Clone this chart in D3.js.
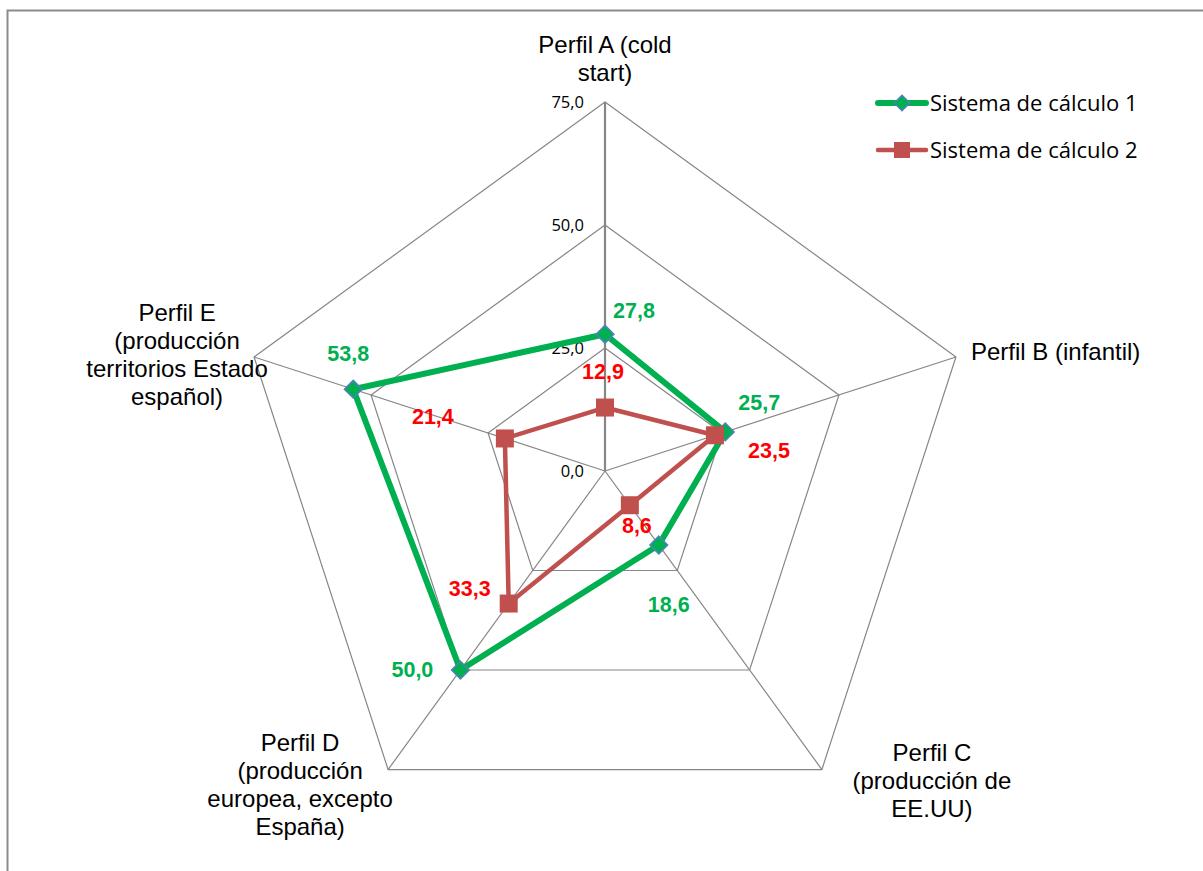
<!DOCTYPE html>
<html>
<head>
<meta charset="utf-8">
<script src="https://cdn.jsdelivr.net/npm/d3@7"></script>
<style>
  body { margin: 0; background: #fff; }
  svg { display: block; }
</style>
</head>
<body>
<div id="chart"></div>
<script>
// Data
const perfiles = [
  ["Perfil A (cold", "start)"],
  ["Perfil B (infantil)"],
  ["Perfil C", "(producción de", "EE.UU)"],
  ["Perfil D", "(producción", "europea, excepto", "España)"],
  ["Perfil E", "(producción", "territorios Estado", "español)"]
];
const sistema1 = [27.8, 25.7, 18.6, 50.0, 53.8];
const sistema2 = [12.9, 23.5, 8.6, 33.3, 21.4];
const ticks = [0, 25, 50, 75];
const seriesNames = ["Sistema de cálculo 1", "Sistema de cálculo 2"];

// Layout (label placement relative to the points / vertices)
const labelOffset1 = [[29, -24], [34, -29], [10, 59], [-48, -1], [-5, -36]];
const labelOffset2 = [[-2, -36], [54, 15], [7, 20], [-39, -15], [-72, -22]];
const axisLabelPos = [
  { dx: 0, dy: -57, anchor: "middle" },
  { dx: 15, dy: -5, anchor: "start" },
  { dx: 110, dy: -17, anchor: "middle" },
  { dx: -88, dy: -27, anchor: "middle" },
  { dx: -77, dy: -44, anchor: "middle" }
];

const width = 1203, height = 871;
const cx = 605, cy = 471;
const fmt = (v) => d3.format(".1f")(v).replace(".", ",");

const svg = d3.select("#chart").append("svg")
  .attr("width", width).attr("height", height);

// chart frame
svg.append("rect")
  .attr("x", 7.5).attr("y", 10.5)
  .attr("width", 1220).attr("height", 900)
  .attr("fill", "none").attr("stroke", "#8c8c8c").attr("stroke-width", 2);

const r = d3.scaleLinear().domain([0, 75]).range([0, 369]);
const angle = d3.scaleLinear().domain([0, perfiles.length]).range([0, 2 * Math.PI]);
const px = (i, v) => cx + r(v) * Math.sin(angle(i));
const py = (i, v) => cy - r(v) * Math.cos(angle(i));

const g = svg.append("g");

// grid rings
ticks.filter((t) => t > 0).forEach((t) => {
  g.append("polygon")
    .attr("points", perfiles.map((d, i) => [px(i, t), py(i, t)].join(",")).join(" "))
    .attr("fill", "none").attr("stroke", "#868686").attr("stroke-width", 1.2);
});

// spokes
perfiles.forEach((d, i) => {
  g.append("line")
    .attr("x1", cx).attr("y1", cy)
    .attr("x2", px(i, 75)).attr("y2", py(i, 75))
    .attr("stroke", "#868686").attr("stroke-width", i === 0 ? 2.2 : 1.2);
});

// tick labels
g.selectAll(".tick").data(ticks).join("text")
  .attr("x", cx - 21).attr("y", (d) => cy - r(d))
  .attr("dy", "0.35em")
  .attr("text-anchor", "end")
  .style("font-family", "'Open Sans', sans-serif").style("font-size", "16.5px")
  .attr("fill", "#000")
  .text(fmt);

// axis labels
perfiles.forEach((lines, i) => {
  const p = axisLabelPos[i];
  const t = g.append("text")
    .attr("x", px(i, 75) + p.dx).attr("y", py(i, 75) + p.dy)
    .attr("text-anchor", p.anchor)
    .style("font-family", "'Liberation Sans', Arial, sans-serif").style("font-size", "24px")
    .attr("fill", "#000");
  lines.forEach((l, k) => {
    t.append("tspan")
      .attr("x", px(i, 75) + p.dx)
      .attr("y", py(i, 75) + p.dy + k * 28)
      .attr("dy", "0.35em")
      .text(l);
  });
});

const line = d3.line().x((d) => d[0]).y((d) => d[1]).curve(d3.curveLinearClosed);

function drawSeries(values, color, widthLine) {
  const pts = values.map((v, i) => [px(i, v), py(i, v)]);
  g.append("path").attr("d", line(pts))
    .attr("fill", "none").attr("stroke", color)
    .attr("stroke-width", widthLine).attr("stroke-linejoin", "round");
  return pts;
}

const pts1 = drawSeries(sistema1, "#00B050", 6);
const pts2 = drawSeries(sistema2, "#C0504D", 4.5);

// markers
const diamond = d3.symbol().type(d3.symbolDiamond2).size(200);
g.selectAll(".m1").data(pts1).join("path")
  .attr("transform", (d) => `translate(${d[0]},${d[1]})`)
  .attr("d", diamond)
  .attr("fill", "#00B050").attr("stroke", "#4F81BD").attr("stroke-width", 1.5);

g.selectAll(".m2").data(pts2).join("rect")
  .attr("x", (d) => d[0] - 9).attr("y", (d) => d[1] - 9)
  .attr("width", 18).attr("height", 18)
  .attr("fill", "#C0504D");

// data labels
function dataLabels(values, pts, offs, color) {
  g.selectAll(null).data(values).join("text")
    .attr("x", (d, i) => pts[i][0] + offs[i][0])
    .attr("y", (d, i) => pts[i][1] + offs[i][1])
    .attr("dy", "0.35em")
    .attr("text-anchor", "middle")
    .style("font-family", "'Liberation Sans', Arial, sans-serif")
    .style("font-size", "21.5px").style("font-weight", "bold")
    .attr("fill", color)
    .text(fmt);
}
dataLabels(sistema1, pts1, labelOffset1, "#00B050");
dataLabels(sistema2, pts2, labelOffset2, "#FF0000");

// legend
const legend = svg.append("g").attr("transform", "translate(876,103)");
seriesNames.forEach((name, k) => {
  const row = legend.append("g").attr("transform", `translate(0,${k * 47})`);
  const color = k === 0 ? "#00B050" : "#C0504D";
  row.append("line").attr("x1", 2).attr("x2", 50).attr("y1", 0).attr("y2", 0)
    .attr("stroke", color).attr("stroke-width", k === 0 ? 6 : 4.5)
    .attr("stroke-linecap", "round");
  if (k === 0) {
    row.append("path").attr("d", d3.symbol().type(d3.symbolDiamond2).size(150))
      .attr("transform", "translate(26,0)")
      .attr("fill", "#00B050").attr("stroke", "#4F81BD").attr("stroke-width", 1.5);
  } else {
    row.append("rect").attr("x", 18).attr("y", -8).attr("width", 16).attr("height", 16)
      .attr("fill", "#C0504D");
  }
  row.append("text").attr("x", 54).attr("y", 0).attr("dy", "0.35em")
    .style("font-family", "'Open Sans', sans-serif").style("font-size", "22px")
    .attr("fill", "#000").text(name);
});
</script>
</body>
</html>
